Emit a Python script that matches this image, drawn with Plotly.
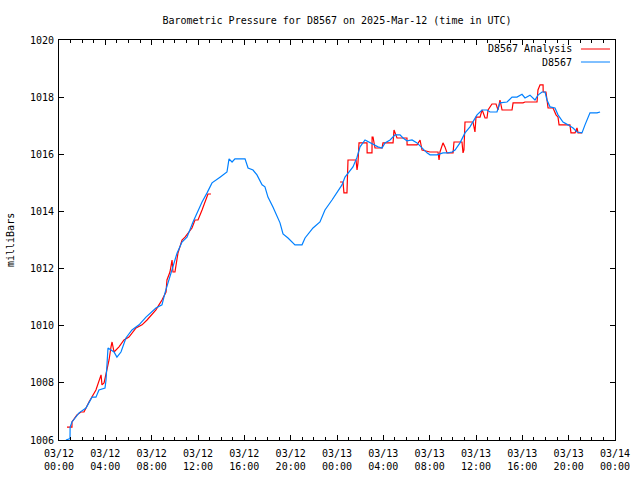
import datetime as dt
import plotly.graph_objects as go

# ---- data (hours after 2025-03-12 00:00 UTC, pressure in mbar) ----
obs_hours = [0.60, 0.95, 0.96, 1.12, 1.73, 2.33, 2.85, 3.19, 3.45, 3.97, 4.06, 4.14, 4.23,
             4.49, 4.75, 5.00, 5.35, 5.78, 6.30, 6.91, 7.51, 8.37, 8.89, 9.15, 9.58,
             10.19, 10.62, 11.05, 11.57, 12.35, 12.78, 13.21, 13.90, 14.50, 14.68, 14.94,
             15.19, 16.06, 16.32, 16.75, 17.09, 17.53, 17.78, 18.04, 18.48, 19.08, 19.34,
             19.77, 20.37, 20.98, 21.24, 21.93, 22.53, 22.96, 23.57, 24.09, 24.43, 24.69,
             24.95, 25.38, 25.73, 25.99, 26.42, 26.85, 27.28, 27.54, 27.89, 28.14, 28.58,
             29.01, 29.44, 29.70, 30.04, 30.48, 30.91, 31.34, 31.77, 32.03, 32.63, 33.15,
             33.58, 33.93, 34.19, 34.62, 35.05, 35.48, 36.09, 36.52, 36.95, 37.21, 37.81,
             38.07, 38.68, 39.11, 39.54, 39.97, 40.23, 40.66, 41.09, 41.35, 41.70, 41.96,
             42.13, 42.39, 42.82, 43.08, 43.51, 43.94, 44.38, 44.72, 45.15, 45.41, 45.84,
             46.45, 46.71]
obs_mbar = [1006.00, 1006.05, 1006.45, 1006.63, 1006.95, 1007.12, 1007.50, 1007.50, 1007.75,
            1007.82, 1008.10, 1008.56, 1009.22, 1009.15, 1009.08, 1008.90, 1009.08, 1009.57,
            1009.85, 1010.03, 1010.30, 1010.62, 1010.73, 1011.15, 1011.70, 1012.54, 1012.93,
            1013.10, 1013.63, 1014.33, 1014.65, 1015.00, 1015.20, 1015.38, 1015.84, 1015.73,
            1015.84, 1015.84, 1015.52, 1015.45, 1015.28, 1014.93, 1014.86, 1014.50, 1014.15,
            1013.60, 1013.21, 1013.07, 1012.83, 1012.83, 1013.07, 1013.42, 1013.63, 1014.05,
            1014.40, 1014.75, 1014.93, 1015.20, 1015.35, 1015.56, 1015.90, 1016.26, 1016.50,
            1016.40, 1016.33, 1016.26, 1016.22, 1016.40, 1016.50, 1016.68, 1016.68, 1016.57,
            1016.47, 1016.50, 1016.40, 1016.22, 1016.05, 1015.98, 1015.98, 1016.05, 1016.05,
            1016.08, 1016.15, 1016.40, 1016.75, 1016.96, 1017.38, 1017.55, 1017.55, 1017.48,
            1017.48, 1017.80, 1017.83, 1018.00, 1018.00, 1018.10, 1017.97, 1018.07, 1017.90,
            1018.07, 1018.18, 1018.18, 1017.90, 1017.66, 1017.62, 1017.38, 1017.13, 1017.03,
            1016.92, 1016.78, 1016.75, 1017.03, 1017.45, 1017.45, 1017.48]

ana_hours = [0.69, 1.12, 1.12, 1.55, 1.90, 2.16, 2.59, 2.85, 3.19, 3.63, 3.71, 3.89, 4.06,
             4.14, 4.32, 4.49, 4.58, 4.75, 4.92, 5.18, 5.61, 6.04, 6.65, 7.17, 7.60, 8.37,
             8.63, 8.89, 9.24, 9.32, 9.58, 9.76, 9.84, 10.01, 10.27, 10.62, 10.88, 11.48,
             11.74, 12.00, 12.35, 12.60, 12.86, 13.12,
             None,
             24.26, 24.52, 24.60, 24.86, 24.95, 25.64, 25.73, 25.81, 25.90, 26.59, 26.60,
             27.02, 27.03, 27.11, 27.28, 27.89, 27.97, 28.84, 28.92, 29.10, 29.18, 30.04,
             30.05, 30.91, 31.17, 31.34, 32.03, 32.72, 32.81, 32.89, 33.15, 33.32, 33.50,
             34.02, 34.10, 34.79, 34.88, 34.96, 35.05, 35.22, 35.74, 35.91, 36.00, 36.35,
             36.52, 36.60, 36.78, 36.95, 37.04, 37.38, 37.73, 37.90, 38.07, 38.25, 39.11,
             39.20, 40.06, 40.23, 41.27, 41.35, 41.53, 41.79, 41.80, 42.04, 42.13, 42.22,
             42.65, 42.91, 43.08, 43.17, 44.11, 44.20, 44.55, 44.72, 44.81, 45.15]
ana_mbar = [1006.45, 1006.45, 1006.63, 1006.88, 1006.98, 1006.98, 1007.33, 1007.50, 1007.75,
            1008.28, 1007.93, 1008.00, 1008.28, 1008.52, 1008.80, 1009.26, 1009.43, 1009.08,
            1009.15, 1009.26, 1009.50, 1009.60, 1009.92, 1010.03, 1010.20, 1010.55, 1010.73,
            1010.90, 1011.18, 1011.60, 1011.88, 1012.30, 1011.88, 1011.88, 1012.54, 1013.00,
            1013.10, 1013.42, 1013.70, 1013.70, 1014.05, 1014.33, 1014.61, 1014.61,
            None,
            1015.03, 1015.03, 1014.65, 1014.65, 1015.80, 1015.80, 1015.45, 1015.70, 1016.40,
            1016.40, 1016.05, 1016.05, 1016.60, 1016.60, 1016.22, 1016.22, 1016.40, 1016.40,
            1016.85, 1016.68, 1016.57, 1016.57, 1016.33, 1016.33, 1016.50, 1016.15, 1016.08,
            1016.08, 1015.80, 1016.08, 1016.40, 1016.26, 1016.05, 1016.05, 1016.43, 1016.43,
            1016.05, 1016.15, 1017.13, 1017.13, 1017.13, 1016.78, 1017.30, 1017.30, 1017.55,
            1017.48, 1017.27, 1017.27, 1017.55, 1017.76, 1017.76, 1017.55, 1017.90, 1017.55,
            1017.55, 1017.80, 1017.80, 1017.83, 1017.83, 1018.25, 1018.43, 1018.43, 1018.18,
            1018.18, 1017.83, 1017.62, 1017.62, 1017.38, 1017.30, 1017.03, 1017.03, 1016.75,
            1016.75, 1016.92, 1016.75, 1016.75]

station = "D8567"
title_text = "Barometric Pressure for D8567 on 2025-Mar-12 (time in UTC)"
y_label = "milliBars"
x_start = "2025-03-12 00:00"
x_end = "2025-03-14 00:00"
y_min, y_max, y_step = 1006, 1020, 2

base = dt.datetime(2025, 3, 12)
def to_time(hs):
    return [None if h is None else base + dt.timedelta(hours=h) for h in hs]

FONT = "DejaVu Sans Mono"
RED = "#ff0000"
BLUE = "#0080ff"

fig = go.Figure()
fig.add_trace(go.Scatter(x=to_time(ana_hours), y=ana_mbar, mode="lines",
                         name=station + " Analysis", line=dict(color=RED, width=1.2),
                         connectgaps=False))
fig.add_trace(go.Scatter(x=to_time(obs_hours), y=obs_mbar, mode="lines",
                         name=station, line=dict(color=BLUE, width=1.2)))

axis_common = dict(showgrid=False, zeroline=False, showline=True, linecolor="black",
                   linewidth=1, mirror="ticks", ticks="inside", tickcolor="black",
                   tickwidth=1, ticklen=5,
                   tickfont=dict(family=FONT, size=10, color="black"))

fig.update_xaxes(range=[x_start, x_end], type="date", dtick=4 * 3600 * 1000,
                 tick0=x_start, tickformat="%m/%d<br>%H:%M", ticklabelstandoff=4,
                 minor=dict(dtick=3600 * 1000, ticks="inside", ticklen=3,
                            tickcolor="black", showgrid=False),
                 **axis_common)
fig.update_yaxes(range=[y_min, y_max], dtick=y_step, tick0=y_min, ticklabelstandoff=2,
                 **axis_common)

annotations = [
    dict(text=y_label, xref="paper", yref="paper", x=0, y=0.5, xshift=-49,
         textangle=-90, showarrow=False, font=dict(family=FONT, size=10, color="black"),
         xanchor="center", yanchor="middle"),
]
legend_rows = [(station + " Analysis", RED, 0.9775), (station, BLUE, 0.945)]
shapes = []
for label, color, yp in legend_rows:
    annotations.append(dict(text=label, xref="paper", yref="paper", x=0.926, y=yp,
                            xanchor="right", yanchor="middle", showarrow=False,
                            font=dict(family=FONT, size=10, color="black")))
    shapes.append(dict(type="line", xref="paper", yref="paper", x0=0.9388, x1=0.991,
                       y0=yp, y1=yp, line=dict(color=color, width=1)))

fig.update_layout(
    width=640, height=480,
    margin=dict(l=59, r=25, t=40, b=40, autoexpand=False),
    paper_bgcolor="white", plot_bgcolor="white",
    showlegend=False,
    title=dict(text=title_text, x=(59 + 615) / 2 / 640, xanchor="center",
               y=1 - 20 / 480, yanchor="middle",
               font=dict(family=FONT, size=10, color="black")),
    annotations=annotations,
    shapes=shapes,
    font=dict(family=FONT, size=10, color="black"),
)

fig.write_html("out.html", config={"displayModeBar": False},
               post_script="document.body.style.margin='0';document.body.style.padding='0';")
